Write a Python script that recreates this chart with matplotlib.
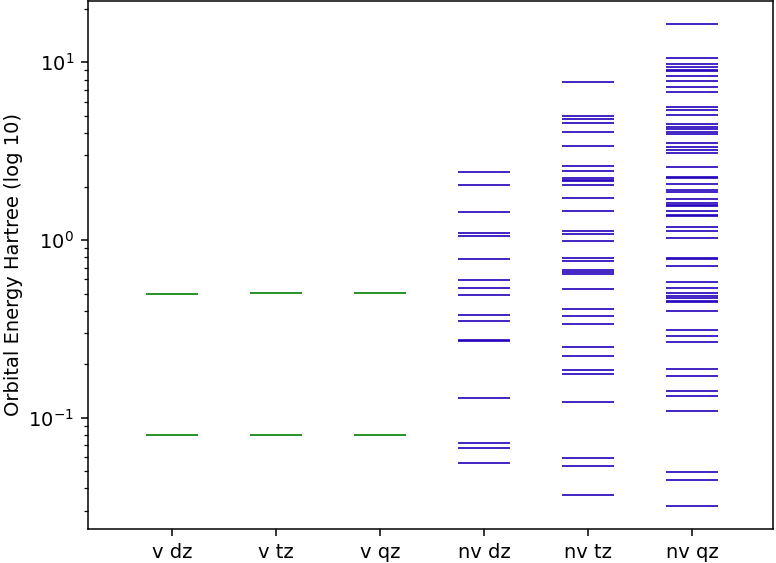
import matplotlib
matplotlib.use("Agg")
import matplotlib.pyplot as plt

categories = ["v dz", "v tz", "v qz", "nv dz", "nv tz", "nv qz"]

v_dz = [0.0795, 0.499]
v_tz = [0.0795, 0.502]
v_qz = [0.0795, 0.501]

nv_dz = [2.414, 2.031, 1.438, 1.095, 1.053, 0.782, 0.593, 0.539, 0.490,
         0.380, 0.350, 0.270, 0.273, 0.1296, 0.0723, 0.0673, 0.0556]

nv_tz = [7.78, 4.986, 4.777, 4.573, 4.069, 3.395, 2.619, 2.461, 2.242, 2.190,
         2.140, 2.053, 1.735, 1.453, 1.128, 1.085, 0.983, 0.795, 0.764, 0.682,
         0.665, 0.648, 0.533, 0.410, 0.3735, 0.3368, 0.2493, 0.2230, 0.1851,
         0.1762, 0.1234, 0.0596, 0.0535, 0.0369]

nv_qz = [16.36, 10.53, 9.74, 9.37, 9.01, 8.90, 8.37, 7.81, 7.26, 6.78, 5.63,
         5.37, 5.03, 4.49, 4.32, 4.20, 4.07, 3.95, 3.53, 3.32, 3.20, 3.07,
         2.564, 2.272, 2.233, 2.058, 1.903, 1.871, 1.694, 1.622, 1.580, 1.547,
         1.450, 1.382, 1.359, 1.189, 1.119, 1.026, 0.795, 0.782, 0.714, 0.583,
         0.539, 0.501, 0.486, 0.470, 0.456, 0.448, 0.397, 0.3115, 0.2894,
         0.2678, 0.1888, 0.1716, 0.1419, 0.1319, 0.1086, 0.0497, 0.0446, 0.0320]

series = [v_dz, v_tz, v_qz, nv_dz, nv_tz, nv_qz]
colors = ["green", "green", "green", "#2200bb", "#2200bb", "#2200bb"]

plt.rcParams["font.size"] = 14
plt.rcParams["font.family"] = ["DejaVu Sans"]

fig = plt.figure(figsize=(7.76, 5.63), dpi=100)
ax = fig.add_axes([88 / 776, (563 - 529) / 563, 685 / 776, 528 / 563])

half = 0.25
for i, (vals, col) in enumerate(zip(series, colors)):
    pos = i + 1
    ax.hlines(vals, pos - half, pos + half, colors=col, linewidth=1.2)

ax.set_yscale("log")
ax.set_ylim(10 ** -1.626, 10 ** 1.345)
ax.set_xlim(0.19, 6.78)
ax.set_xticks(range(1, len(categories) + 1))
ax.set_xticklabels(categories)
ax.set_ylabel("Orbital Energy Hartree (log 10)", labelpad=4.0)

for s in ax.spines.values():
    s.set_linewidth(1.1)
ax.tick_params(which="major", length=4.8, width=1.1, pad=5.2)
ax.tick_params(which="minor", length=2.7, width=0.9)

fig.savefig("out.png", dpi=100)
